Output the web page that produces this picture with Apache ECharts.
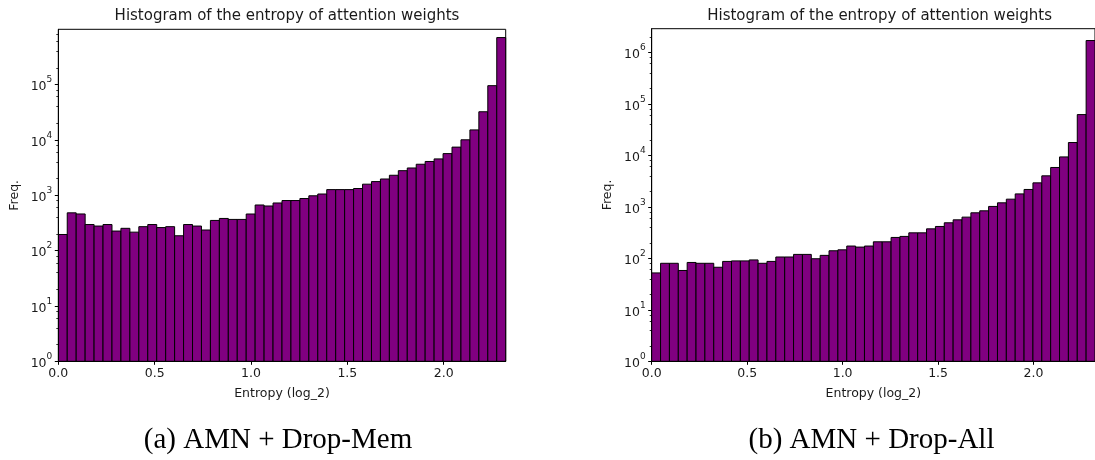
<!DOCTYPE html>
<html><head><meta charset="utf-8">
<script src="https://cdn.jsdelivr.net/npm/echarts@6/dist/echarts.min.js"></script>
<style>html,body{margin:0;padding:0;background:#fff}#c{width:1095px;height:460px}</style>
</head><body><div id="c"></div>
<script>
// ---- data ----
const titleText = 'Histogram of the entropy of attention weights';
const xName = 'Entropy (log_2)';
const yName = 'Freq.';
const captions = ['(a) AMN + Drop-Mem', '(b) AMN + Drop-All'];
const xTicks = [0, 0.5, 1.0, 1.5, 2.0];
const yTicksA = [1, 10, 100, 1000, 10000, 100000];
const yTicksB = [1, 10, 100, 1000, 10000, 100000, 1000000];
const xMax = Math.log2(5);           // max entropy for 5 slots
const binCount = 50;
const freqA = [195,480,458,295,277,295,225,252,215,270,
               295,260,270,185,295,277,235,350,380,365,
               365,457,665,638,723,800,800,870,975,1050,
               1260,1260,1260,1320,1580,1760,1960,2290,2770,3100,
               3620,4060,4520,5630,7380,10000,15100,32100,95000,702000];
const freqB = [52,80,80,58,83,80,80,67,87,89,
               89,93,80,87,106,106,119,119,98,114,
               140,146,173,165,173,209,209,254,266,312,
               312,373,415,489,558,630,764,835,1016,1194,
               1406,1780,2170,2915,3990,5800,9300,17700,61700,1690000];
const yMaxA = 990000;
const yMaxB = 2870000;

// ---- build ----
const minorTicks = [];
for (let k = 0; k <= 6; k++) for (const m of [2, 4, 6, 8]) minorTicks.push(m * Math.pow(10, k));

function bins(freq) {
  const w = xMax / binCount;
  return freq.map((v, i) => [i * w, (i + 1) * w, v]);
}
const FONT = 'DejaVu Sans';
const TXT = '#1a1a1a';
const grids = [
  {left: 58.3, top: 29.3, width: 447.4, height: 332},
  {left: 651.7, top: 28.7, width: 445.8, height: 332.6}
];
const xAxes = [], yAxes = [], series = [];
[[freqA, yMaxA, yTicksA], [freqB, yMaxB, yTicksB]].forEach(([freq, yMax, yTicks], g) => {
  xAxes.push({
    type: 'value', gridIndex: g, min: 0, max: xMax, z: 5, position: 'bottom',
    name: xName, nameLocation: 'middle', nameGap: 26,
    nameTextStyle: {fontFamily: FONT, fontSize: 12.5, color: TXT},
    axisLine: {show: true, lineStyle: {color: '#000', width: 1}},
    axisTick: {show: true, inside: false, length: 3.5, customValues: xTicks, lineStyle: {color: '#000', width: 1}},
    axisLabel: {show: true, margin: 6, customValues: xTicks, fontFamily: FONT, fontSize: 12.5, color: TXT,
                formatter: v => Number(v).toFixed(1)},
    splitLine: {show: false}
  });
  yAxes.push({
    type: 'log', logBase: 10, gridIndex: g, min: 1, max: yMax, z: 5, position: 'left',
    name: yName, nameLocation: 'middle', nameGap: 37, nameRotate: 90,
    nameTextStyle: {fontFamily: FONT, fontSize: 12.5, color: TXT},
    axisLine: {show: true, lineStyle: {color: '#000', width: 1}},
    axisTick: {show: true, inside: false, length: 3.5, customValues: yTicks, lineStyle: {color: '#000', width: 1}},
    axisLabel: {show: true, margin: 6, customValues: yTicks, fontFamily: FONT, color: TXT,
      formatter: v => '{b|10}{s|' + Math.round(Math.log10(v)) + '}',
      rich: {
        b: {fontFamily: FONT, fontSize: 12.5, color: TXT, lineHeight: 18, verticalAlign: 'bottom'},
        s: {fontFamily: FONT, fontSize: 9, color: TXT, lineHeight: 10, verticalAlign: 'top'}
      }},
    splitLine: {show: false}
  });
  yAxes.push({
    type: 'log', logBase: 10, gridIndex: g, min: 1, max: yMax, z: 5, position: 'left', offset: 0,
    axisLine: {show: false, onZero: false},
    axisTick: {show: true, inside: false, length: 2, customValues: minorTicks.filter(v => v < yMax), lineStyle: {color: '#000', width: 0.8}},
    axisLabel: {show: false},
    splitLine: {show: false}
  });
  series.push({
    type: 'custom', xAxisIndex: g, yAxisIndex: g * 2, clip: true,
    data: bins(freq),
    renderItem: (params, api) => {
      const p0 = api.coord([api.value(0), api.value(2)]);
      const p1 = api.coord([api.value(1), 1]);
      return {type: 'rect', shape: {x: p0[0], y: p0[1], width: p1[0] - p0[0], height: p1[1] - p0[1]},
              style: {fill: '#800080', stroke: '#000', lineWidth: 1}};
    }
  });
});

const chart = echarts.init(document.getElementById('c'), null, {renderer: 'canvas'});
chart.setOption({
  animation: false,
  backgroundColor: '#fff',
  title: [
    {text: titleText, left: 282, top: 4, textAlign: 'center', textStyle: {fontFamily: FONT, fontSize: 15, fontWeight: 'normal', color: TXT}},
    {text: titleText, left: 874.6, top: 4, textAlign: 'center', textStyle: {fontFamily: FONT, fontSize: 15, fontWeight: 'normal', color: TXT}},
    {text: captions[0], left: 273, top: 421, textAlign: 'center', textStyle: {fontFamily: 'Liberation Serif', fontSize: 29, fontWeight: 'normal', color: '#000'}},
    {text: captions[1], left: 866.5, top: 421, textAlign: 'center', textStyle: {fontFamily: 'Liberation Serif', fontSize: 29, fontWeight: 'normal', color: '#000'}}
  ],
  grid: grids.map(g => Object.assign({show: true, borderColor: '#000', borderWidth: 1, backgroundColor: 'transparent', containLabel: false}, g)),
  xAxis: xAxes,
  yAxis: yAxes,
  series: series
});
</script></body></html>
